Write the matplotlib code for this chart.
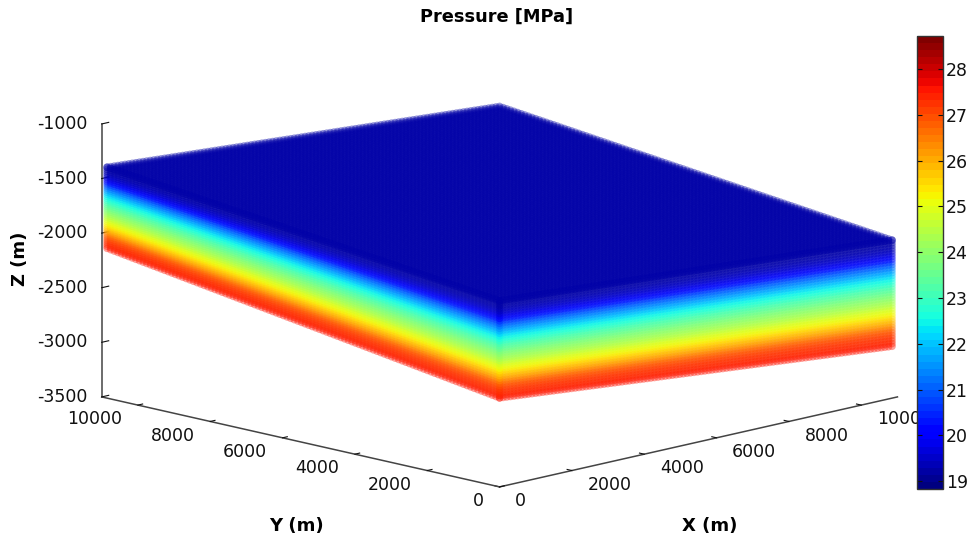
import numpy as np
import matplotlib
matplotlib.use("Agg")
import matplotlib.pyplot as plt
from matplotlib.cm import ScalarMappable
from matplotlib.colors import Normalize

plt.rcParams['axes.unicode_minus'] = False
plt.rcParams['font.family'] = 'DejaVu Sans'

# Reservoir extent (m) and corner depths
extent_x = 10850
extent_y = 10850
top_near, top_left, top_right = -1797, -1385, -2053
bottom_near, bottom_left, bottom_right = -2685, -2128, -3025

# Pressure (MPa) per layer, top to bottom of the reservoir
layer_pressure = [19.2, 19.2, 19.2, 19.3, 19.4, 19.6, 19.8, 20.1, 20.5, 20.9,
                  21.2, 21.5, 21.8, 22.1, 22.4, 22.6, 22.8, 23.1, 23.3, 23.5,
                  23.7, 23.9, 24.1, 24.3, 24.5, 24.8, 25.0, 25.2, 25.4, 25.7,
                  25.9, 26.2, 26.5, 26.8, 27.0, 27.2, 27.3, 27.4, 27.5, 27.6]
top_pressure = 19.2

x_ticks = [0, 2000, 4000, 6000, 8000, 10000]
y_ticks = [0, 2000, 4000, 6000, 8000, 10000]
z_ticks = [-3500, -3000, -2500, -2000, -1500, -1000]
cbar_ticks = [19, 20, 21, 22, 23, 24, 25, 26, 27, 28]
pressure_min, pressure_max = 18.83, 28.72

W, H = 968, 538
fig = plt.figure(figsize=(W / 100, H / 100), dpi=100, facecolor='white')
side = 819
ax = fig.add_axes([79 / W, -143 / H, side / W, side / H],
                  projection='3d', proj_type='ortho')
ax.view_init(elev=13.07, azim=-135)
ax.set_box_aspect((1, 1, 0.498))
ax.set_xlim(0, 11000)
ax.set_ylim(0, 11000)
ax.set_zlim(-3500, -1000)

norm = Normalize(pressure_min, pressure_max)
cmap = plt.get_cmap('jet', 64)

n_layer = len(layer_pressure)
frac = np.arange(n_layer) / (n_layer - 1)
nh = 110
along = np.arange(nh) / (nh - 1)

def top_z(u, v):
    return top_near + u * (top_right - top_near) + v * (top_left - top_near)

def bottom_z(u, v):
    return bottom_near + u * (bottom_right - bottom_near) + v * (bottom_left - bottom_near)

xs, ys, zs, cs = [], [], [], []
# top face
U, V = np.meshgrid(along, along)
xs.append((U * extent_x).ravel()); ys.append((V * extent_y).ravel())
zs.append(top_z(U, V).ravel()); cs.append(np.full(U.size, top_pressure))
# two near faces
for face in (0, 1):
    A, F = np.meshgrid(along, frac)
    u, v = (A, 0 * A) if face == 0 else (0 * A, A)
    P = np.tile(np.array(layer_pressure)[:, None], (1, nh))
    xs.append((u * extent_x).ravel()); ys.append((v * extent_y).ravel())
    zs.append((top_z(u, v) + F * (bottom_z(u, v) - top_z(u, v))).ravel())
    cs.append(P.ravel())

ax.scatter(np.concatenate(xs), np.concatenate(ys), np.concatenate(zs),
           c=np.concatenate(cs), cmap='jet', norm=norm, s=30, alpha=0.4,
           linewidths=0, depthshade=False)

ax.grid(False)
for axis, tick_out in ((ax.xaxis, 0.15), (ax.yaxis, 0.15), (ax.zaxis, 0.22)):
    axis.pane.set_visible(False)
    axis.line.set_color('#444444')
    axis.line.set_linewidth(1.1)
    axis._axinfo['tick']['inward_factor'] = 0.0
    axis._axinfo['tick']['outward_factor'] = tick_out
ax.set_xticks(x_ticks, labels=[str(v) for v in x_ticks], ha='left', va='center')
ax.set_yticks(y_ticks, labels=[str(v) for v in y_ticks], ha='right', va='center')
ax.set_zticks(z_ticks, labels=[str(v) for v in z_ticks], ha='right', va='center')
ax.tick_params(axis='x', labelsize=12.5, colors='#111111', width=0.8, pad=4)
ax.tick_params(axis='y', labelsize=12.5, colors='#111111', width=0.8, pad=4)
ax.tick_params(axis='z', labelsize=12.5, colors='#111111', width=0.8, pad=-2.5)

fig.text(710 / W, 1 - 526 / H, 'X (m)', fontsize=13, fontweight='bold', ha='center', va='center')
fig.text(296 / W, 1 - 526 / H, 'Y (m)', fontsize=13, fontweight='bold', ha='center', va='center')
fig.text(20 / W, 1 - 259 / H, 'Z (m)', fontsize=13, fontweight='bold', ha='center', va='center', rotation=90)
fig.text(497 / W, 1 - 17 / H, 'Pressure [MPa]', fontsize=12.8, fontweight='bold', ha='center', va='center')

cax = fig.add_axes([917 / W, (H - 489) / H, 26 / W, 453 / H])
cb = fig.colorbar(ScalarMappable(norm=norm, cmap=cmap), cax=cax)
cb.set_ticks(cbar_ticks)
cax.tick_params(axis='y', direction='in', length=3.5, width=0.8, left=True, right=True,
                labelsize=12.5, pad=2, colors='#111111')
cb.outline.set_edgecolor('#333333')
cb.outline.set_linewidth(1.0)

fig.savefig('out.png', dpi=100)
